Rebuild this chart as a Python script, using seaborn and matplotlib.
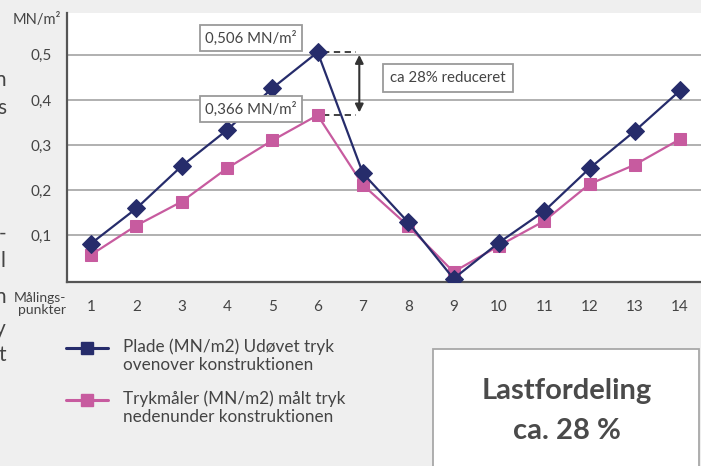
import matplotlib
matplotlib.use("Agg")
import matplotlib.pyplot as plt
from matplotlib.lines import Line2D
from matplotlib.patches import Rectangle
from matplotlib.ticker import FixedLocator, FixedFormatter
import seaborn as sns
import pandas as pd

# ---- data ----
points = list(range(1, 15))
plade = [0.081, 0.159, 0.253, 0.333, 0.426, 0.506, 0.237, 0.128, 0.003, 0.083, 0.153, 0.248, 0.331, 0.421]
trykmaaler = [0.056, 0.121, 0.174, 0.248, 0.310, 0.366, 0.211, 0.120, 0.018, 0.076, 0.131, 0.213, 0.256, 0.313]
y_ticks = [0.1, 0.2, 0.3, 0.4, 0.5]
y_ticklabels = ["0,1", "0,2", "0,3", "0,4", "0,5"]
x_ticklabels = [str(p) for p in points]
series_names = ["Plade (MN/m2) Udøvet tryk\novenover konstruktionen",
                "Trykmåler (MN/m2) målt tryk\nnedenunder konstruktionen"]

NAVY = "#262c6b"
PINK = "#c75b9f"
TXT = "#444444"
GREY_BG = "#efefef"

sns.set_theme(style="white")
plt.rcParams["font.family"] = ["Lato", "DejaVu Sans"]

W, H = 701, 466
fig = plt.figure(figsize=(W / 100, H / 100), dpi=100, facecolor=GREY_BG)

def fx(x):
    return x / W

def fy(y):
    return 1 - y / H

ax = fig.add_axes([fx(67), fy(282), fx(701) - fx(67), fy(13) - fy(282)])
ax.set_facecolor("white")

df = pd.DataFrame({
    "punkt": points * 2,
    "value": plade + trykmaaler,
    "serie": [series_names[0]] * len(points) + [series_names[1]] * len(points),
})

sns.lineplot(data=df[df.serie == series_names[0]], x="punkt", y="value", ax=ax,
             color=NAVY, lw=1.6, marker="D", markersize=9,
             markeredgecolor=NAVY, legend=False, zorder=4)
sns.lineplot(data=df[df.serie == series_names[1]], x="punkt", y="value", ax=ax,
             color=PINK, lw=1.6, marker="s", markersize=8.5,
             markeredgecolor=PINK, legend=False, zorder=3)

ax.set_xlim(0.47, 14.46)
ax.set_ylim(-0.0044, 0.593)

for v in y_ticks:
    ax.axhline(v, color="#a3a3a3", lw=1.2, zorder=1)

ax.yaxis.set_major_locator(FixedLocator(y_ticks))
ax.yaxis.set_major_formatter(FixedFormatter(y_ticklabels))
ax.xaxis.set_major_locator(FixedLocator(points))
ax.xaxis.set_major_formatter(FixedFormatter(x_ticklabels))
ax.xaxis.set_minor_locator(FixedLocator([p + 0.5 for p in points]))
ax.tick_params(axis="y", length=0, pad=11, labelsize=11, labelcolor=TXT)
ax.tick_params(axis="x", which="major", length=0, pad=13, labelsize=11, labelcolor=TXT)
ax.tick_params(axis="x", which="minor", length=4, width=1.0, color="#555555", direction="out")
ax.set_xlabel("")
ax.set_ylabel("")

for s in ["top", "right"]:
    ax.spines[s].set_visible(False)
for s in ["left", "bottom"]:
    ax.spines[s].set_color("#555555")
    ax.spines[s].set_linewidth(1.6)

# dashed reference lines and arrow
ax.plot([6.12, 6.85], [plade[5], plade[5]], color="#333333", lw=1.3, ls=(0, (3.5, 2.5)), zorder=2)
ax.plot([6.12, 6.85], [trykmaaler[5], trykmaaler[5]], color="#333333", lw=1.3, ls=(0, (3.5, 2.5)), zorder=2)
ax.annotate("", xy=(6.92, 0.500), xytext=(6.92, 0.372),
            arrowprops=dict(arrowstyle="<|-|>", color="#333333", lw=1.5,
                            mutation_scale=12, shrinkA=0, shrinkB=0), zorder=5)

box = dict(boxstyle="square,pad=0.35", facecolor="white", edgecolor="#9a9a9a", lw=1.3)
fig.text(fx(251), fy(38), "0,506 MN/m²", ha="center", va="center", fontsize=10.8, color=TXT, bbox=box)
fig.text(fx(251), fy(109), "0,366 MN/m²", ha="center", va="center", fontsize=10.8, color=TXT, bbox=box)
box2 = dict(boxstyle="square,pad=0.45", facecolor="white", edgecolor="#9a9a9a", lw=1.3)
fig.text(fx(448), fy(78), "ca 28% reduceret", ha="center", va="center", fontsize=10.8, color=TXT, bbox=box2)

# axis texts
fig.text(fx(37), fy(20), "MN/m²", ha="center", va="center", fontsize=10.5, color=TXT)
fig.text(fx(66), fy(304), "Målings-\npunkter", ha="right", va="center", fontsize=10,
         color=TXT, linespacing=0.9)

# manual legend
for yy, col, mk, name in [(348, NAVY, "s", series_names[0]), (400, PINK, "s", series_names[1])]:
    fig.add_artist(Line2D([fx(66), fx(108)], [fy(yy), fy(yy)], transform=fig.transFigure,
                          color=col, lw=2.2))
    fig.add_artist(Line2D([fx(87)], [fy(yy)], transform=fig.transFigure, color=col,
                          marker=mk, markersize=8.5, lw=0))
    fig.text(fx(123), fy(yy - 10), name, ha="left", va="top", fontsize=12.3, color=TXT,
             linespacing=1.2)

# info box
fig.add_artist(Rectangle((fx(433), fy(470)), fx(699) - fx(433), fy(349) - fy(470),
                         transform=fig.transFigure, facecolor="white", edgecolor="#a8a8a8", lw=1.3))
fig.text(fx(567), fy(391), "Lastfordeling", ha="center", va="center", fontsize=21,
         fontweight="bold", color="#4a4a4a")
fig.text(fx(567), fy(431), "ca. 28 %", ha="center", va="center", fontsize=21,
         fontweight="bold", color="#4a4a4a")

# clipped fragments of neighbouring text on the left edge (cut off in the original too)
for ch, yy in [("n", 80), ("s", 108), ("-", 234), ("l", 261), ("n", 297), ("y", 329), ("t", 355)]:
    fig.text(fx(6), fy(yy), ch, ha="right", va="center", fontsize=15, color=TXT)

fig.savefig("out.png", dpi=100, facecolor=GREY_BG)
